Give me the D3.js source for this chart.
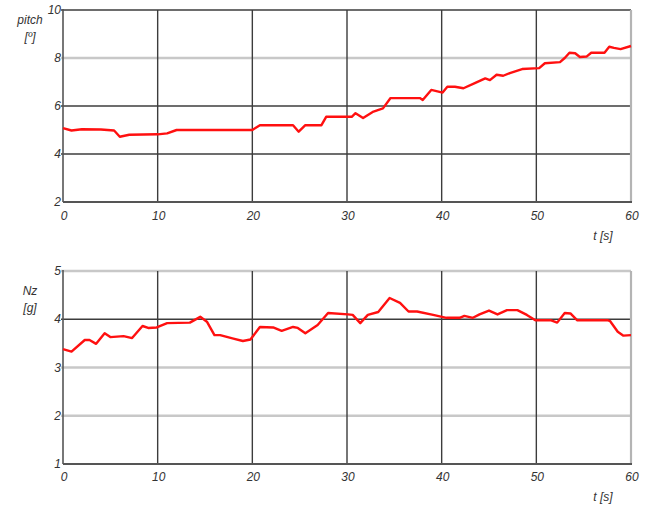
<!DOCTYPE html>
<html>
<head>
<meta charset="utf-8">
<script src="https://cdn.jsdelivr.net/npm/d3@7"></script>
<style>
  html, body { margin: 0; padding: 0; background: #fff; }
  svg text { font-family: "Liberation Sans", Arial, sans-serif; font-style: italic; fill: #333; }
</style>
</head>
<body>
<svg id="chart" width="657" height="506"></svg>
<script>
// time axis
const xTicks = [0, 10, 20, 30, 40, 50, 60]

// pitch [º] vs t [s]
const pitchT = [0, 0.9, 2, 4, 5.4, 6, 7, 10, 11, 12, 20, 20.8, 24.3, 24.9, 25.6, 27.3, 27.8, 30.5, 30.9, 31.7, 32.8,
  33.8, 34.6, 37.7, 38, 38.9, 40.1, 40.6, 41.4, 42.3, 43.5, 44.6, 45.1, 45.8, 46.5, 47.2, 48.5, 50.3, 50.9,
  52.5, 53, 53.5, 54.1, 54.6, 55.3, 55.8, 57.2, 57.7, 58.2, 58.9, 60]
const pitchV = [5.08, 4.98, 5.03, 5.02, 4.98, 4.72, 4.8, 4.82, 4.86, 5.0, 5.0, 5.2, 5.2, 4.93, 5.2, 5.2, 5.55,
  5.55, 5.7, 5.5, 5.77, 5.9, 6.33, 6.33, 6.25, 6.67, 6.56, 6.8, 6.8, 6.74, 6.95, 7.15, 7.08, 7.3, 7.26, 7.37, 7.54,
  7.58, 7.78, 7.83, 8.0, 8.22, 8.2, 8.04, 8.06, 8.22, 8.22, 8.47, 8.42, 8.37, 8.5]
const pitchTicks = [2, 4, 6, 8, 10]
const pitchDark = [4, 6, 10]

// Nz [g] vs t [s]
const nzT = [0, 0.9, 2.3, 2.8, 3.5, 4.4, 5, 6.4, 7.3, 8.4, 9, 9.9, 11, 13.4, 14.5, 15.2, 16, 16.6, 18, 19, 19.8,
  20.8, 22.2, 23.1, 24.3, 24.8, 25.6, 26.9, 28, 30.1, 30.6, 31.4, 32.2, 33.3, 34.5, 35.6, 36.5, 37.4, 39.1,
  40.5, 41.9, 42.4, 43.3, 44, 45, 45.9, 46.9, 48, 49, 49.9, 51.5, 52.2, 53, 53.6, 54.3, 57.5, 57.8, 58.6, 59.2, 60]
const nzV = [3.38, 3.33, 3.57, 3.57, 3.49, 3.71, 3.63, 3.65, 3.61, 3.86, 3.82, 3.83, 3.92, 3.93, 4.05, 3.95, 3.67,
  3.67, 3.6, 3.55, 3.58, 3.84, 3.83, 3.76, 3.84, 3.82, 3.71, 3.88, 4.13, 4.1, 4.09, 3.92, 4.09, 4.15, 4.44, 4.34,
  4.16, 4.16, 4.09, 4.03, 4.03, 4.07, 4.03, 4.1, 4.18, 4.1, 4.19, 4.19, 4.09, 3.98, 3.98, 3.93, 4.13, 4.12, 3.98,
  3.98, 3.96, 3.74, 3.66, 3.67]
const nzTicks = [1, 2, 3, 4, 5]
const nzDark = [4]

const svg = d3.select('#chart')
const x = d3.scaleLinear().domain([0, 60]).range([63, 631])

function drawPanel({ ts, vs, domain, ticks, dark, top, bottom, label, unit, labelY, xLabelY, tLabelY }) {
  const y = d3.scaleLinear().domain(domain).range([bottom, top])
  const g = svg.append('g')

  // horizontal grid
  g.selectAll('.hgrid')
    .data(ticks.slice(1))
    .enter()
    .append('line')
    .attr('x1', x(0) - 2)
    .attr('x2', x(60))
    .attr('y1', d => y(d))
    .attr('y2', d => y(d))
    .attr('stroke', d => dark.includes(d) ? '#3c3c3c' : '#c8c8c8')
    .attr('stroke-width', d => dark.includes(d) ? 1.4 : 2.4)

  // vertical grid
  g.selectAll('.vgrid')
    .data(xTicks.slice(1, -1))
    .enter()
    .append('line')
    .attr('x1', d => x(d))
    .attr('x2', d => x(d))
    .attr('y1', top)
    .attr('y2', bottom)
    .attr('stroke', '#3c3c3c')
    .attr('stroke-width', 1.4)

  // right border
  g.append('line')
    .attr('x1', x(60)).attr('x2', x(60))
    .attr('y1', top).attr('y2', bottom)
    .attr('stroke', '#b4b4b4').attr('stroke-width', 2.2)

  // axes
  g.append('line')
    .attr('x1', x(0)).attr('x2', x(0))
    .attr('y1', top - 1).attr('y2', bottom)
    .attr('stroke', '#555').attr('stroke-width', 1.6)
  g.append('line')
    .attr('x1', x(0)).attr('x2', x(60) + 1)
    .attr('y1', bottom).attr('y2', bottom)
    .attr('stroke', '#555').attr('stroke-width', 1.8)

  // tick labels
  g.selectAll('.ylab')
    .data(ticks)
    .enter()
    .append('text')
    .attr('x', x(0) - 2)
    .attr('y', d => y(d))
    .attr('dy', '0.35em')
    .attr('text-anchor', 'end')
    .attr('font-size', 12)
    .text(d => d)
  g.selectAll('.xlab')
    .data(xTicks)
    .enter()
    .append('text')
    .attr('x', d => x(d) + 1)
    .attr('y', xLabelY)
    .attr('text-anchor', 'middle')
    .attr('font-size', 12)
    .text(d => d)

  g.append('text')
    .attr('x', 603).attr('y', tLabelY)
    .attr('text-anchor', 'middle')
    .attr('font-size', 12)
    .text('t [s]')
  g.append('text')
    .attr('x', 30).attr('y', labelY)
    .attr('text-anchor', 'middle')
    .attr('font-size', 12)
    .text(label)
  g.append('text')
    .attr('x', 30).attr('y', labelY + 17)
    .attr('text-anchor', 'middle')
    .attr('font-size', 12)
    .text(unit)

  // series
  const line = d3.line()
    .x((d, i) => x(ts[i]))
    .y(d => y(d))
  g.append('path')
    .datum(vs)
    .attr('fill', 'none')
    .attr('stroke', '#ff1010')
    .attr('stroke-width', 2.4)
    .attr('stroke-linejoin', 'round')
    .attr('d', line)
}

drawPanel({
  ts: pitchT, vs: pitchV, domain: [2, 10], ticks: pitchTicks, dark: pitchDark,
  top: 10, bottom: 202, label: 'pitch', unit: '[º]', labelY: 24, xLabelY: 220, tLabelY: 240,
})
drawPanel({
  ts: nzT, vs: nzV, domain: [1, 5], ticks: nzTicks, dark: nzDark,
  top: 271, bottom: 464, label: 'Nz', unit: '[g]', labelY: 295, xLabelY: 481, tLabelY: 501,
})
</script>
</body>
</html>
